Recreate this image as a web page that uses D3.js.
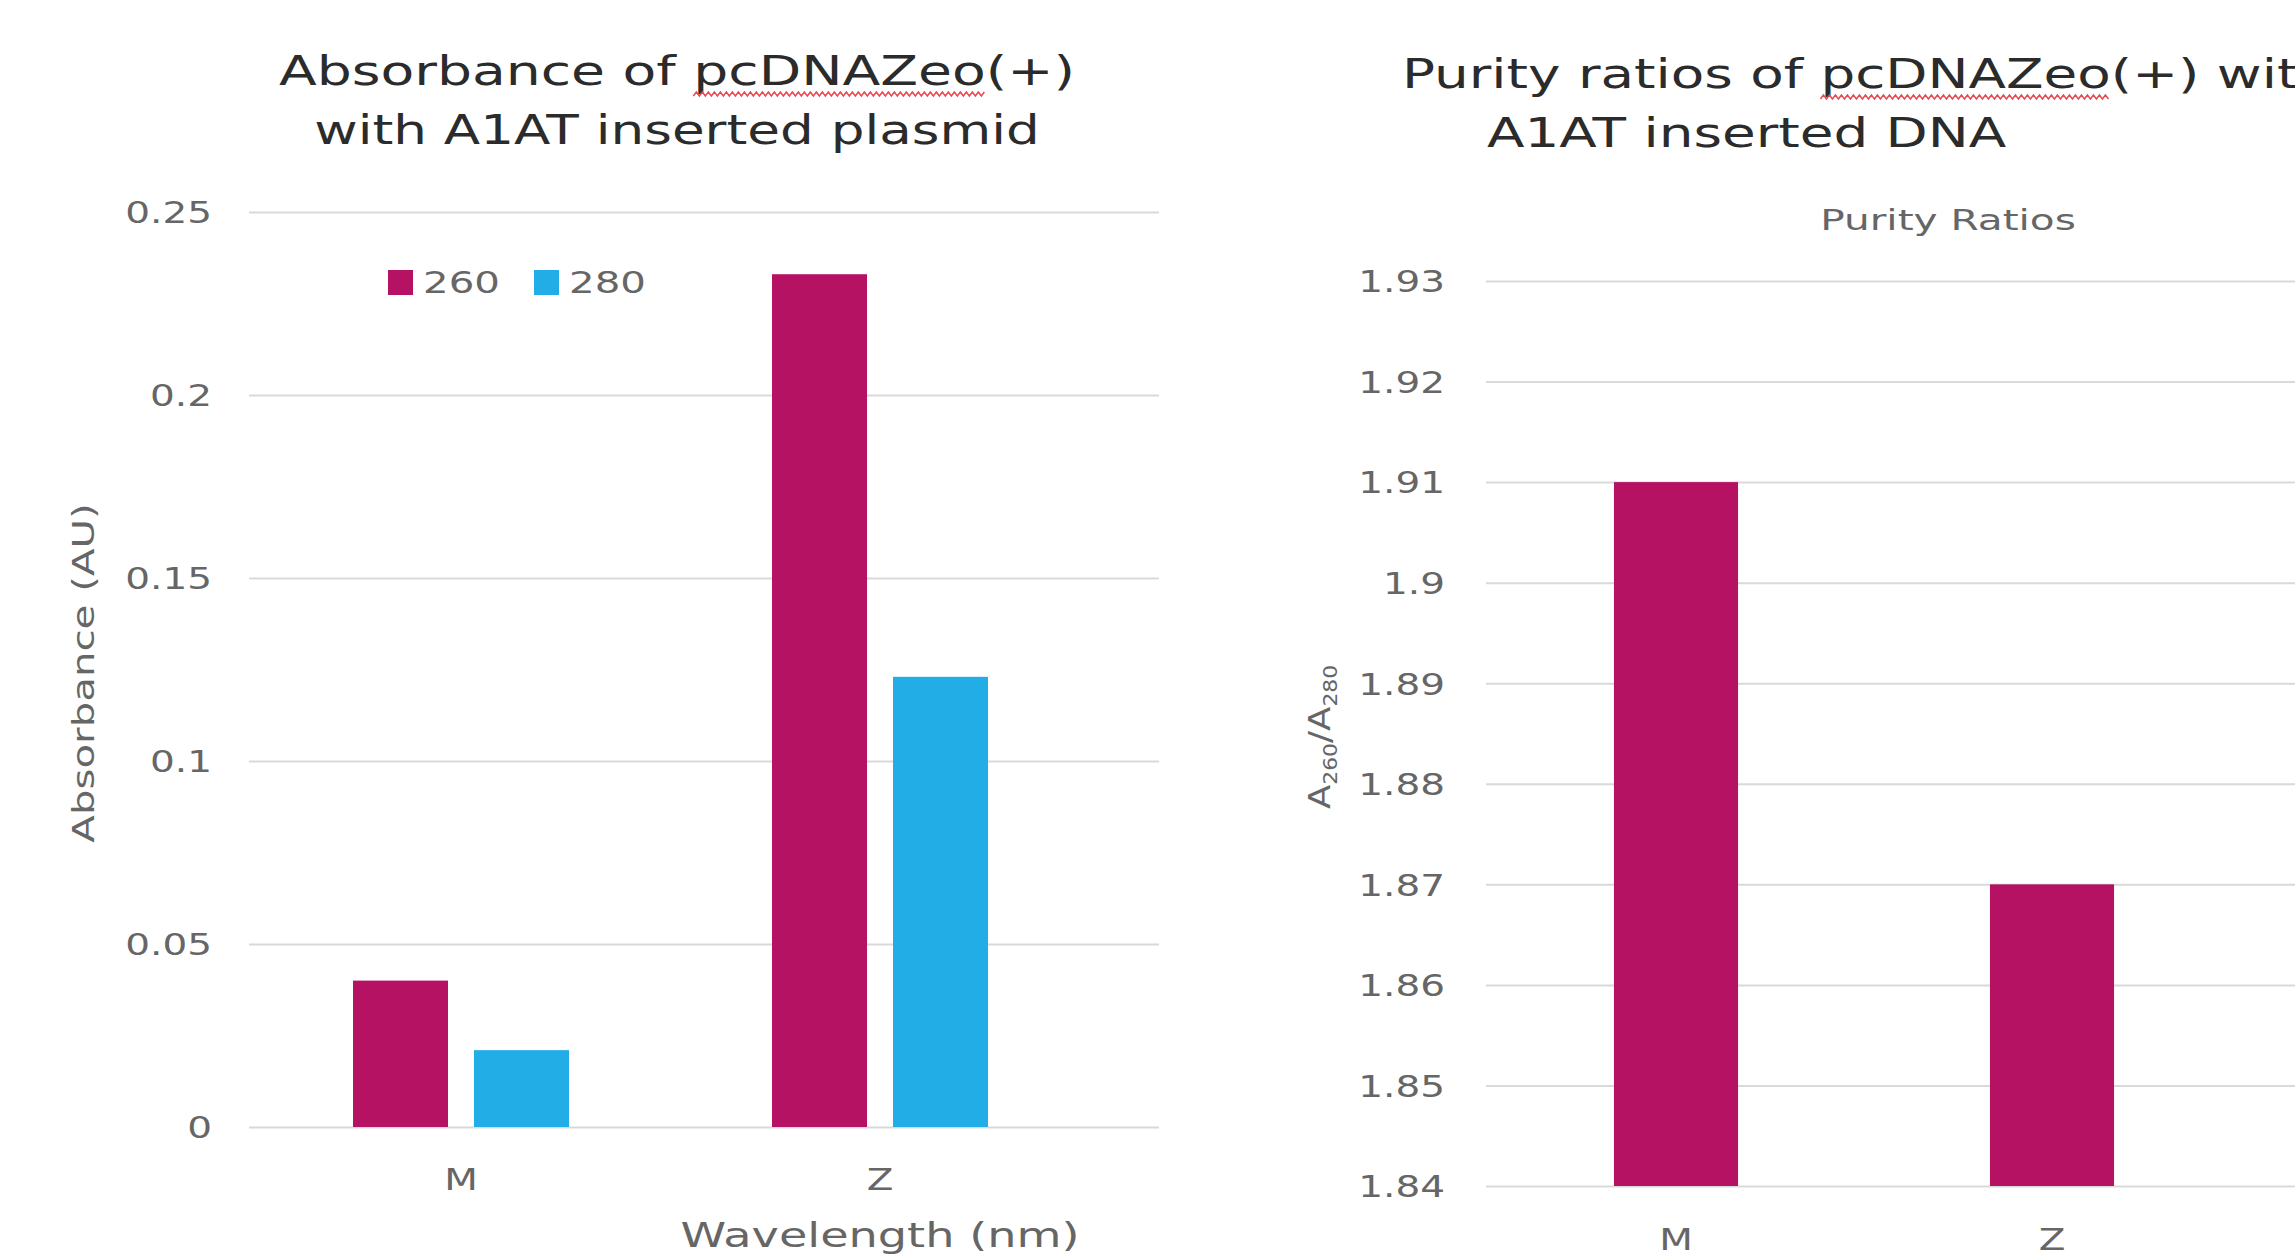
<!DOCTYPE html>
<html>
<head>
<meta charset="utf-8">
<script src="https://cdn.jsdelivr.net/npm/d3@7"></script>
<style>
  html, body { margin: 0; padding: 0; background: #ffffff; }
  svg { display: block; }
  text { font-family: "DejaVu Sans", "Open Sans", sans-serif; }
</style>
</head>
<body>
<svg id="chart" width="2295" height="1258"></svg>
<script>
// ---------- data ----------
const categories = ["M", "Z"];
const wavelengths = ["260", "280"];
const absorbance260 = [0.040, 0.233];
const absorbance280 = [0.021, 0.123];
const absTicks = [0, 0.05, 0.1, 0.15, 0.2, 0.25];
const absTickLabels = ["0", "0.05", "0.1", "0.15", "0.2", "0.25"];
const purityRatios = [1.91, 1.87];
const purityTicks = [1.84, 1.85, 1.86, 1.87, 1.88, 1.89, 1.90, 1.91, 1.92, 1.93];
const purityTickLabels = ["1.84", "1.85", "1.86", "1.87", "1.88", "1.89", "1.9", "1.91", "1.92", "1.93"];

const colors = { "260": "#b51263", "280": "#23ade6" };
const gridColor = "#d9d9d9";
const labelColor = "#666666";
const titleColor = "#2b2b2b";

const svg = d3.select("#chart");
const SX = 1.3; // horizontal stretch of the original lettering

function stretchedText(g, x, y, str, opts) {
  const sx = opts.sx || SX;
  const t = g.append("text")
    .attr("transform", `translate(${x},${y}) scale(${sx},1)`)
    .attr("text-anchor", opts.anchor || "middle")
    .attr("font-size", opts.size)
    .attr("fill", opts.fill || labelColor)
    .text(str);
  t.node().__pos = { x, y, sx, anchor: opts.anchor || "middle" };
  return t;
}

// red spell-check squiggle under a word of a title
function squiggle(g, t, word) {
  const node = t.node();
  const p = node.__pos;
  const str = node.textContent;
  const idx = str.indexOf(word);
  const total = node.getComputedTextLength();
  const before = idx > 0 ? node.getSubStringLength(0, idx) : 0;
  const wlen = node.getSubStringLength(idx, word.length);
  const origin = p.anchor === "middle" ? -total / 2 : 0;
  const xa = p.x + (origin + before) * p.sx;
  const xb = xa + wlen * p.sx;
  const yy = p.y + 9;
  const pts = [];
  let k = 0;
  for (let xx = xa; xx <= xb; xx += 3, k++) pts.push([xx, yy + (k % 2 ? -2 : 2)]);
  g.append("path").attr("d", d3.line()(pts)).attr("fill", "none")
    .attr("stroke", "#e8474f").attr("stroke-width", 1.5);
}

// ---------- left chart ----------
{
  const g = svg.append("g");
  const gridX0 = 249, gridX1 = 1159;
  const y = d3.scaleLinear().domain([0, 0.25]).range([1127, 212]);
  const x0 = d3.scaleBand().domain(categories).range([251.5, 1089.5]).padding(0);
  const x1 = d3.scaleBand().domain(wavelengths)
    .range([x0.bandwidth() / 2 - 108, x0.bandwidth() / 2 + 108])
    .paddingInner(0.215).paddingOuter(0);

  // gridlines
  const grid = g.append("g").attr("transform", `translate(${gridX0},0)`)
    .call(d3.axisRight(y).tickValues(absTicks).tickSize(gridX1 - gridX0).tickFormat(""));
  grid.select(".domain").remove();
  grid.selectAll("line").attr("stroke", gridColor).attr("stroke-width", 2);

  // tick labels
  const ax = g.append("g").attr("transform", `translate(${gridX0},0)`)
    .call(d3.axisLeft(y).tickValues(absTicks).tickSize(0).tickPadding(37)
      .tickFormat((d, i) => absTickLabels[i]));
  ax.select(".domain").remove();
  ax.selectAll(".tick text").each(function () {
    d3.select(this).attr("x", null).attr("dy", "0.36em")
      .attr("font-size", 30).attr("fill", labelColor)
      .attr("transform", `translate(-37,0) scale(${SX},1)`);
  });

  // bars
  const series = [absorbance260, absorbance280];
  categories.forEach((c, ci) => {
    wavelengths.forEach((w, wi) => {
      const v = series[wi][ci];
      g.append("rect")
        .attr("x", x0(c) + x1(w))
        .attr("y", y(v))
        .attr("width", x1.bandwidth())
        .attr("height", y(0) - y(v))
        .attr("fill", colors[w]);
    });
  });

  // category labels
  categories.forEach(c => {
    stretchedText(g, x0(c) + x0.bandwidth() / 2, 1190, c, { size: 30 });
  });

  // legend
  const legX = [388, 534];
  wavelengths.forEach((w, i) => {
    g.append("rect").attr("x", legX[i]).attr("y", 270).attr("width", 25).attr("height", 25)
      .attr("fill", colors[w]);
    stretchedText(g, legX[i] + 35, 293, w, { size: 31, anchor: "start" });
  });

  // titles
  const t1 = stretchedText(g, 677, 85, "Absorbance of pcDNAZeo(+)", { size: 40, fill: titleColor, sx: 1.38 });
  stretchedText(g, 677, 144, "with A1AT inserted plasmid", { size: 40, fill: titleColor, sx: 1.33 });
  squiggle(g, t1, "pcDNAZeo");

  // axis titles
  stretchedText(g, 880, 1247, "Wavelength (nm)", { size: 33, sx: 1.4 });
  g.append("text")
    .attr("transform", `translate(94,673) rotate(-90) scale(1.3,1)`)
    .attr("text-anchor", "middle").attr("font-size", 31).attr("fill", labelColor)
    .text("Absorbance (AU)");
}

// ---------- right chart ----------
{
  const g = svg.append("g");
  const gridX0 = 1486, gridX1 = 2295;
  const y = d3.scaleLinear().domain([1.84, 1.93]).range([1186, 281]);
  const x = d3.scaleBand().domain(categories).range([1488, 2240])
    .paddingInner(0.67).paddingOuter(0.335);

  const grid = g.append("g").attr("transform", `translate(${gridX0},0)`)
    .call(d3.axisRight(y).tickValues(purityTicks).tickSize(gridX1 - gridX0).tickFormat(""));
  grid.select(".domain").remove();
  grid.selectAll("line").attr("stroke", gridColor).attr("stroke-width", 2);

  const ax = g.append("g").attr("transform", `translate(${gridX0},0)`)
    .call(d3.axisLeft(y).tickValues(purityTicks).tickSize(0).tickPadding(41)
      .tickFormat((d, i) => purityTickLabels[i]));
  ax.select(".domain").remove();
  ax.selectAll(".tick text").each(function () {
    d3.select(this).attr("x", null).attr("dy", "0.36em")
      .attr("font-size", 30).attr("fill", labelColor)
      .attr("transform", `translate(-41,0) scale(${SX},1)`);
  });

  categories.forEach((c, i) => {
    const v = purityRatios[i];
    g.append("rect")
      .attr("x", x(c)).attr("y", y(v))
      .attr("width", x.bandwidth()).attr("height", y(1.84) - y(v))
      .attr("fill", colors["260"]);
    stretchedText(g, x(c) + x.bandwidth() / 2, 1250, c, { size: 30 });
  });

  const t2 = stretchedText(g, 1402, 88, "Purity ratios of pcDNAZeo(+) with", { size: 40, fill: titleColor, anchor: "start", sx: 1.37 });
  stretchedText(g, 1487, 147, "A1AT inserted DNA", { size: 40, fill: titleColor, anchor: "start", sx: 1.37 });
  squiggle(g, t2, "pcDNAZeo");
  stretchedText(g, 1948, 230, "Purity Ratios", { size: 28, sx: 1.45 });

  const yt = g.append("text")
    .attr("transform", `translate(1330,737) rotate(-90) scale(1.15,1)`)
    .attr("text-anchor", "middle").attr("font-size", 31).attr("fill", labelColor);
  yt.append("tspan").text("A");
  yt.append("tspan").attr("font-size", 19).attr("dy", 7).text("260");
  yt.append("tspan").attr("dy", -7).text("/A");
  yt.append("tspan").attr("font-size", 19).attr("dy", 7).text("280");
}
</script>
</body>
</html>
